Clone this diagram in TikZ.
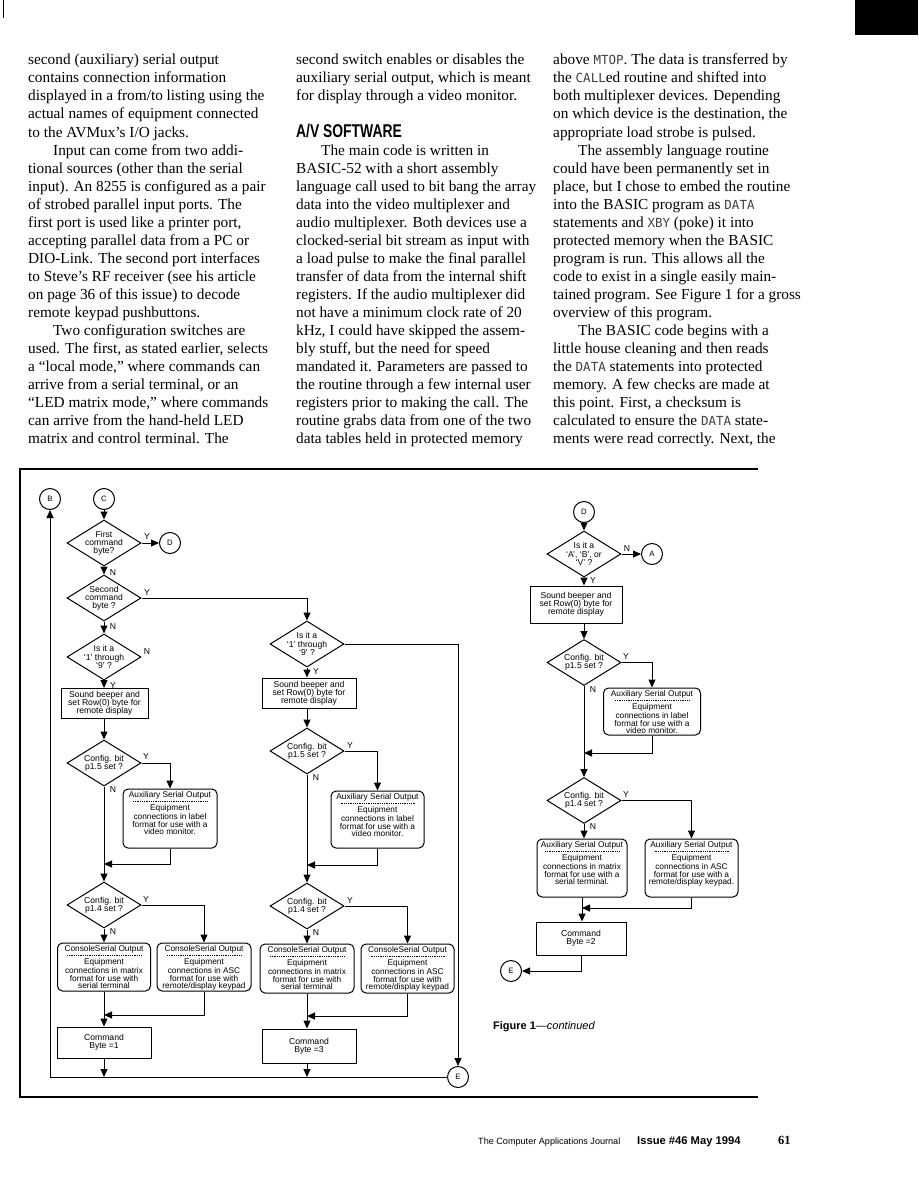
\documentclass[tikz,border=0pt]{standalone}
\usepackage{fontspec}
\setmainfont{Liberation Serif}
\newfontfamily\fsans{Liberation Sans}
\newfontfamily\hsans[FakeStretch=0.75]{Liberation Sans}
\newfontfamily\codef{DejaVu Sans Mono}
\usetikzlibrary{shapes.geometric,arrows.meta}
\newcommand\cw[1]{{\codef\fontsize{12.5}{12}\selectfont\color{black!75}#1}}
\tikzset{
 body/.style={anchor=base west, inner sep=0pt, font=\fontsize{15.3}{18}\selectfont},
 ftxt/.style={font=\fsans\fontsize{8.6}{8.2}\selectfont, align=center, inner sep=0pt},
 otxt/.style={font=\fsans\fontsize{8.3}{7.7}\selectfont, align=center, inner sep=0pt, anchor=north},
 dia/.style={diamond, draw, line width=1pt, minimum width=74pt, minimum height=46pt, inner sep=0pt},
 procbox/.style={rectangle, draw, line width=1pt, inner sep=0pt, align=center, font=\fsans\fontsize{8.6}{8.2}\selectfont},
 outbox/.style={rectangle, rounded corners=5pt, draw, line width=1pt, inner sep=0pt},
 circ/.style={circle, draw, line width=1pt, minimum size=21pt, inner sep=0pt, font=\fsans\fontsize{7.8}{8}\selectfont},
 arr/.style={-{Triangle[length=8pt,width=7pt]}, line width=1pt},
 lnk/.style={line width=1pt},
 lbl/.style={font=\fsans\fontsize{8.6}{9}\selectfont, inner sep=0pt},
 sepline/.style={dash pattern=on 1pt off 0.8pt, line width=0.4pt},
}
\newcommand\obox[7]{%
 \node[outbox, minimum width=#4pt, minimum height=#5pt] (#1) at (#2,#3) {};
 \node[otxt] (#1t) at ([yshift=-3pt]#1.north) {#6};
 \draw[sepline] ([xshift=-37pt,yshift=-13pt]#1.north) -- ([xshift=37pt,yshift=-13pt]#1.north);
 \node[otxt] (#1b) at ([yshift=-16pt]#1.north) {#7};
}
\begin{document}
\begin{tikzpicture}[x=1pt,y=-1pt]
\useasboundingbox (0,0) rectangle (918,1188);
\fill[white] (0,0) rectangle (918,1188);
\fill[black] (855,0) rectangle (918,35);
\draw[line width=0.8pt] (3,0) -- (3,18);

% ---------- column 1 ----------
\node[body] (a0) at (28,65) {second (auxiliary) serial output};
\node[body] (a1l) at (28,83) {contains connection information};
\node[body] (a2l) at (28,101) {displayed in a from/to listing using the};
\node[body] (a3l) at (28,119) {actual names of equipment connected};
\node[body] (a4l) at (28,137) {to the AVMux’s I/O jacks.};
\node[body] (a5l) at (53,155) {Input can come from two addi-};
\node[body] (a6l) at (28,173) {tional sources (other than the serial};
\node[body] (a7l) at (28,191) {input). An 8255 is configured as a pair};
\node[body] (a8l) at (28,209) {of strobed parallel input ports. The};
\node[body] (a9l) at (28,227) {first port is used like a printer port,};
\node[body] (a10l) at (28,245) {accepting parallel data from a PC or};
\node[body] (a11l) at (28,263) {DIO-Link. The second port interfaces};
\node[body] (a12l) at (28,281) {to Steve’s RF receiver (see his article};
\node[body] (a13l) at (28,299) {on page 36 of this issue) to decode};
\node[body] (a14l) at (28,317) {remote keypad pushbuttons.};
\node[body] (a15l) at (53,335) {Two configuration switches are};
\node[body] (a16l) at (28,353) {used. The first, as stated earlier, selects};
\node[body] (a17l) at (28,371) {a “local mode,” where commands can};
\node[body] (a18l) at (28,389) {arrive from a serial terminal, or an};
\node[body] (a19l) at (28,407) {“LED matrix mode,” where commands};
\node[body] (a20l) at (28,425) {can arrive from the hand-held LED};
\node[body] (a21l) at (28,443) {matrix and control terminal. The};

% ---------- column 2 ----------
\node[body] (b0) at (296,65) {second switch enables or disables the};
\node[body] (b1l) at (296,83) {auxiliary serial output, which is meant};
\node[body] (b2l) at (296,101) {for display through a video monitor.};
\node[anchor=base west, inner sep=0pt, font=\hsans\bfseries\fontsize{18.5}{19}\selectfont] (hd) at (296,138) {A/V SOFTWARE};
\node[body] (b5l) at (321,155) {The main code is written in};
\node[body] (b6l) at (296,173) {BASIC-52 with a short assembly};
\node[body] (b7l) at (296,191) {language call used to bit bang the array};
\node[body] (b8l) at (296,209) {data into the video multiplexer and};
\node[body] (b9l) at (296,227) {audio multiplexer. Both devices use a};
\node[body] (b10l) at (296,245) {clocked-serial bit stream as input with};
\node[body] (b11l) at (296,263) {a load pulse to make the final parallel};
\node[body] (b12l) at (296,281) {transfer of data from the internal shift};
\node[body] (b13l) at (296,299) {registers. If the audio multiplexer did};
\node[body] (b14l) at (296,317) {not have a minimum clock rate of 20};
\node[body] (b15l) at (296,335) {kHz, I could have skipped the assem-};
\node[body] (b16l) at (296,353) {bly stuff, but the need for speed};
\node[body] (b17l) at (296,371) {mandated it. Parameters are passed to};
\node[body] (b18l) at (296,389) {the routine through a few internal user};
\node[body] (b19l) at (296,407) {registers prior to making the call. The};
\node[body] (b20l) at (296,425) {routine grabs data from one of the two};
\node[body] (b21l) at (296,443) {data tables held in protected memory};

% ---------- column 3 ----------
\node[body] (c0) at (553,65) {above \cw{MTOP}. The data is transferred by};
\node[body] (c1l) at (553,83) {the \cw{CALL}ed routine and shifted into};
\node[body] (c2l) at (553,101) {both multiplexer devices. Depending};
\node[body] (c3l) at (553,119) {on which device is the destination, the};
\node[body] (c4l) at (553,137) {appropriate load strobe is pulsed.};
\node[body] (c5l) at (578,155) {The assembly language routine};
\node[body] (c6l) at (553,173) {could have been permanently set in};
\node[body] (c7l) at (553,191) {place, but I chose to embed the routine};
\node[body] (c8l) at (553,209) {into the BASIC program as \cw{DATA}};
\node[body] (c9l) at (553,227) {statements and \cw{XBY} (poke) it into};
\node[body] (c10l) at (553,245) {protected memory when the BASIC};
\node[body] (c11l) at (553,263) {program is run. This allows all the};
\node[body] (c12l) at (553,281) {code to exist in a single easily main-};
\node[body] (c13l) at (553,299) {tained program. See Figure 1 for a gross};
\node[body] (c14l) at (553,317) {overview of this program.};
\node[body] (c15l) at (578,335) {The BASIC code begins with a};
\node[body] (c16l) at (553,353) {little house cleaning and then reads};
\node[body] (c17l) at (553,371) {the \cw{DATA} statements into protected};
\node[body] (c18l) at (553,389) {memory. A few checks are made at};
\node[body] (c19l) at (553,407) {this point. First, a checksum is};
\node[body] (c20l) at (553,425) {calculated to ensure the \cw{DATA} state-};
\node[body] (c21l) at (553,443) {ments were read correctly. Next, the};

% ---------- frame ----------
\draw[line width=2.6pt] (758,469) -- (20,469) -- (20,1097) -- (758,1097);

% ---------- left flow ----------
\node[circ] (B) at (50,499) {B};
\node[circ] (C) at (104,499) {C};
\node[dia] (d1) at (104,543) {};
\node[ftxt] (d1t) at (d1) {First\\command\\byte?};
\node[circ] (D1) at (170,543) {D};
\node[dia] (d2) at (104,598) {};
\node[ftxt] (d2t) at (d2) {Second\\command\\byte ?};
\node[dia] (d3) at (104,657) {};
\node[ftxt] (d3t) at (d3) {Is it a\\‘1’ through\\‘9’ ?};
\node[procbox, minimum width=87pt, minimum height=30pt] (r1) at (104.5,703.5) {Sound beeper and\\set Row(0) byte for\\remote display};
\node[dia] (d4) at (104,763) {};
\node[ftxt] (d4t) at (d4) {Config. bit\\p1.5 set ?};
\obox{x1}{170}{818.5}{94}{59}{Auxiliary Serial Output}{Equipment\\connections in label\\format for use with a\\video monitor.}
\coordinate (j1) at (104,864);
\node[dia] (d5) at (104,905) {};
\node[ftxt] (d5t) at (d5) {Config. bit\\p1.4 set ?};
\obox{s1}{104}{967}{93}{48}{ConsoleSerial Output}{Equipment\\connections in matrix\\format for use with\\serial terminal}
\obox{s2}{204}{967}{94}{48}{ConsoleSerial Output}{Equipment\\connections in ASC\\format for use with\\remote/display keypad}
\coordinate (j2) at (104,1015);
\node[procbox, minimum width=94pt, minimum height=31pt] (k1) at (104,1042.5) {Command\\Byte =1};
\coordinate (bl) at (50,1077);

% ---------- middle flow ----------
\node[dia] (m1) at (307,644) {};
\node[ftxt] (m1t) at (m1) {Is it a\\‘1’ through\\‘9’ ?};
\node[procbox, minimum width=94pt, minimum height=30pt] (mr) at (309,693) {Sound beeper and\\set Row(0) byte for\\remote display};
\node[dia] (m2) at (307,751) {};
\node[ftxt] (m2t) at (m2) {Config. bit\\p1.5 set ?};
\obox{x2}{377.5}{819.5}{93}{57}{Auxiliary Serial Output}{Equipment\\connections in label\\format for use with a\\video monitor.}
\coordinate (j3) at (307,865);
\node[dia] (m3) at (307,906) {};
\node[ftxt] (m3t) at (m3) {Config. bit\\p1.4 set ?};
\obox{s3}{307}{968.5}{94}{49}{ConsoleSerial Output}{Equipment\\connections in matrix\\format for use with\\serial terminal}
\obox{s4}{407.5}{968.5}{93}{49}{ConsoleSerial Output}{Equipment\\connections in ASC\\format for use with\\remote/display keypad}
\coordinate (j4) at (307,1016);
\node[procbox, minimum width=94pt, minimum height=34pt] (k3) at (309,1046) {Command\\Byte =3};
\node[circ] (E1) at (458,1077) {E};

% ---------- right flow ----------
\node[circ] (D2) at (584,512) {D};
\node[dia] (q1) at (584,554) {};
\node[ftxt] (q1t) at (q1) {Is it a\\‘A’, ‘B’, or\\‘V’ ?};
\node[circ] (A) at (652,554) {A};
\node[procbox, minimum width=92pt, minimum height=37pt] (qr) at (576,604.5) {Sound beeper and\\set Row(0) byte for\\remote display};
\node[dia] (q2) at (584,662.5) {};
\node[ftxt] (q2t) at (q2) {Config. bit\\p1.5 set ?};
\obox{x3}{652}{711.5}{97}{47}{Auxiliary Serial Output}{Equipment\\connections in label\\format for use with a\\video monitor.}
\coordinate (j5) at (584,753);
\node[dia] (q3) at (584,800.5) {};
\node[ftxt] (q3t) at (q3) {Config. bit\\p1.4 set ?};
\obox{t1}{582}{868}{90}{58}{Auxiliary Serial Output}{Equipment\\connections in matrix\\format for use with a\\serial terminal.}
\obox{t2}{691.5}{868}{93}{58}{Auxiliary Serial Output}{Equipment\\connections in ASC\\format for use with a\\remote/display keypad.}
\coordinate (j6) at (582,908);
\node[procbox, minimum width=90pt, minimum height=33pt] (k2) at (581,938.5) {Command\\Byte =2};
\node[circ] (E2) at (511,971) {E};

% ---------- connectors left ----------
\draw[arr] (C) -- (d1.north);
\draw[arr] (d1.east) -- (D1);
\draw[arr] (d1.south) -- (d2.north);
\draw[arr] (d2.south) -- (d3.north);
\draw[arr] (d3.south) -- (d3.south |- r1.north);
\draw[arr] (d4.north |- r1.south) -- (d4.north);
\draw[arr] (d4.east) -| (x1.north);
\draw[arr] (d4.south) -- (d5.north);
\draw[arr] (x1.south) |- (j1);
\draw[arr] (d5.south) -- (d5.south |- s1.north);
\draw[arr] (d5.east) -| (s2.north);
\draw[arr] (s1.south) -- (s1.south |- k1.north);
\draw[arr] (s2.south) |- (j2);
\draw[arr] (k1.south) -- (k1.south |- bl);
\draw[arr] (bl) -- (B.south);
\draw[lnk] (bl) -- (E1.west);

% ---------- connectors middle ----------
\draw[arr] (d2.east) -| (m1.north);
\draw[arr] (m1.east) -| (E1.north);
\draw[arr] (m1.south) -- (m1.south |- mr.north);
\draw[arr] (m1.south |- mr.south) -- (m2.north);
\draw[arr] (m2.east) -| (x2.north);
\draw[arr] (m2.south) -- (m3.north);
\draw[arr] (x2.south) |- (j3);
\draw[arr] (m3.south) -- (m3.south |- s3.north);
\draw[arr] (m3.east) -| (s4.north);
\draw[arr] (s3.south) -- (s3.south |- k3.north);
\draw[arr] (s4.south) |- (j4);
\draw[arr] (m3.south |- k3.south) -- (m3.south |- bl);

% ---------- connectors right ----------
\draw[arr] (D2) -- (q1.north);
\draw[arr] (q1.east) -- (A);
\draw[arr] (q1.south) -- (q1.south |- qr.north);
\draw[arr] (q1.south |- qr.south) -- (q2.north);
\draw[arr] (q2.east) -| (x3.north);
\draw[arr] (q2.south) -- (q3.north);
\draw[arr] (x3.south) |- (j5);
\draw[arr] (q3.south) -- (q3.south |- t1.north);
\draw[arr] (q3.east) -| (t2.north);
\draw[arr] (t1.south) -- (t1.south |- k2.north);
\draw[arr] (t2.south) |- (j6);
\draw[arr] (k2.south) |- (E2.east);

% ---------- Y/N labels ----------
\node[lbl] (y1) at (147,537) {Y}; \node[lbl] (n1) at (113,573) {N};
\node[lbl] (y2) at (147,593) {Y}; \node[lbl] (n2) at (113,627) {N};
\node[lbl] (n3) at (147,652) {N}; \node[lbl] (y3) at (113,686) {Y};
\node[lbl] (y4) at (146,757) {Y}; \node[lbl] (n4) at (113,790) {N};
\node[lbl] (y5) at (146,900) {Y}; \node[lbl] (n5) at (113,932) {N};
\node[lbl] (y6) at (316,672) {Y};
\node[lbl] (y7) at (350,746) {Y}; \node[lbl] (n7) at (316,778) {N};
\node[lbl] (y8) at (350,901) {Y}; \node[lbl] (n8) at (316,933) {N};
\node[lbl] (n9) at (627,549) {N}; \node[lbl] (y9) at (593,581) {Y};
\node[lbl] (y10) at (626,657) {Y}; \node[lbl] (n10) at (593,690) {N};
\node[lbl] (y11) at (626,795) {Y}; \node[lbl] (n11) at (593,827) {N};

% ---------- caption and footer ----------
\node[anchor=base west, inner sep=0pt, font=\fsans\fontsize{11}{12}\selectfont] (cap) at (493,1029) {\textbf{Figure 1}—\textit{continued}};
\node[anchor=base west, inner sep=0pt, font=\fsans\fontsize{9.1}{10}\selectfont] (ft1) at (478,1144) {The Computer Applications Journal};
\node[anchor=base west, inner sep=0pt, font=\fsans\bfseries\fontsize{11.2}{12}\selectfont] (ft2) at (637,1144) {Issue \#46 May 1994};
\node[anchor=base west, inner sep=0pt, font=\bfseries\fontsize{12.5}{13}\selectfont] (ft3) at (778,1144) {61};
\end{tikzpicture}
\end{document}
